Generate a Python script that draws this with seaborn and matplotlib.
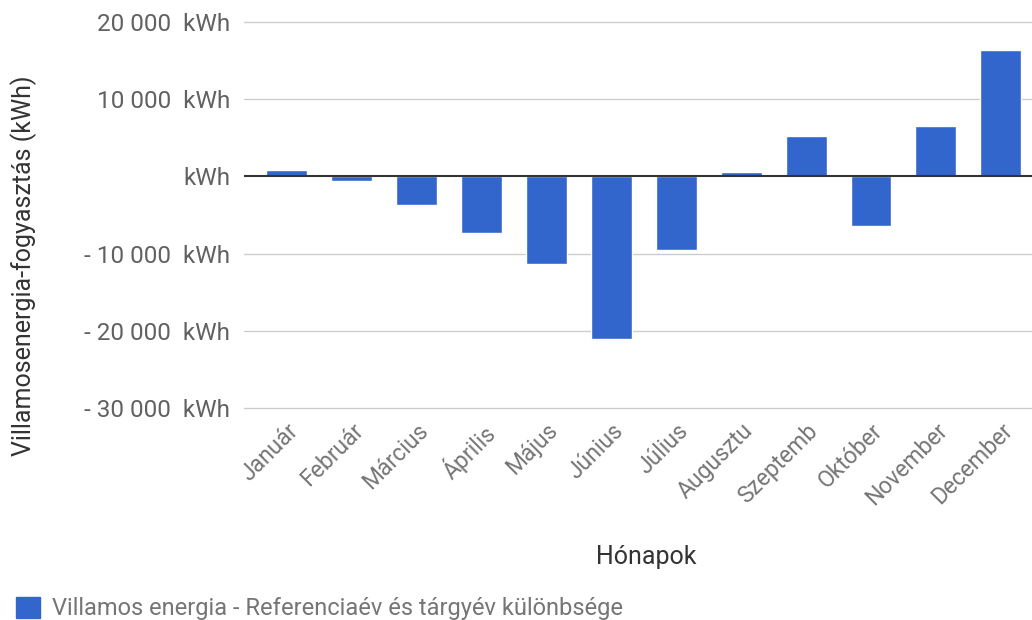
import matplotlib
matplotlib.use('Agg')
import matplotlib.pyplot as plt
import seaborn as sns
import pandas as pd

# Data
months = ['Január', 'Február', 'Március', 'Április', 'Május', 'Június',
          'Július', 'Augusztu', 'Szeptemb', 'Október', 'November', 'December']
diff_kwh = [820, -650, -3770, -7360, -11300, -21130,
            -9480, 600, 5240, -6410, 6540, 16360]
y_ticks = [-30000, -20000, -10000, 0, 10000, 20000]
y_tick_labels = ['- 30 000  kWh', '- 20 000  kWh', '- 10 000  kWh', 'kWh',
                 '10 000  kWh', '20 000  kWh']
series_name = 'Villamos energia - Referenciaév és tárgyév különbsége'

df = pd.DataFrame({'Hónap': months, 'Érték': diff_kwh})

sns.set_theme(style='white')
plt.rcParams['font.family'] = ['Roboto', 'DejaVu Sans']

bar_color = '#3366cc'
fig = plt.figure(figsize=(10.32, 6.2), dpi=100)
ax = fig.add_axes([0.2364, 0.342, 0.7636, 0.6226])

sns.barplot(data=df, x='Hónap', y='Érték', color=bar_color, width=0.63,
            saturation=1, ax=ax, zorder=3)

ax.set_ylim(-30000, 20000)
ax.set_xlim(-0.66, 11.48)
ax.set_yticks(y_ticks)
ax.set_yticklabels(y_tick_labels)
for y in y_ticks:
    if y != 0:
        ax.axhline(y, color='#cccccc', lw=1, zorder=1, clip_on=False)
ax.axhline(0, color='#333333', lw=1.5, zorder=4)

for s in ax.spines.values():
    s.set_visible(False)
ax.tick_params(axis='both', length=0)
ax.tick_params(axis='y', labelsize=17.5, labelcolor='#616161', pad=10)
ax.tick_params(axis='x', labelsize=16.5, labelcolor='#757575', pad=8)
for lbl in ax.get_xticklabels():
    lbl.set_rotation(45)
    lbl.set_ha('right')
    lbl.set_rotation_mode('anchor')

ax.set_xlabel('Hónapok', fontsize=18, color='#333333')
ax.set_ylabel('Villamosenergia-fogyasztás (kWh)', fontsize=18, color='#333333')
ax.yaxis.set_label_coords(-0.263, 0.368)
ax.xaxis.set_label_coords(0.51, -0.355)

# legend at bottom left
handle = plt.Rectangle((0, 0), 1, 1, color=bar_color)
fig.legend([handle], [series_name], loc='lower left', bbox_to_anchor=(-0.005, -0.035),
           frameon=False, fontsize=17, labelcolor='#757575',
           handlelength=1.0, handleheight=1.0, handletextpad=0.5)

fig.savefig('out.png', dpi=100)
